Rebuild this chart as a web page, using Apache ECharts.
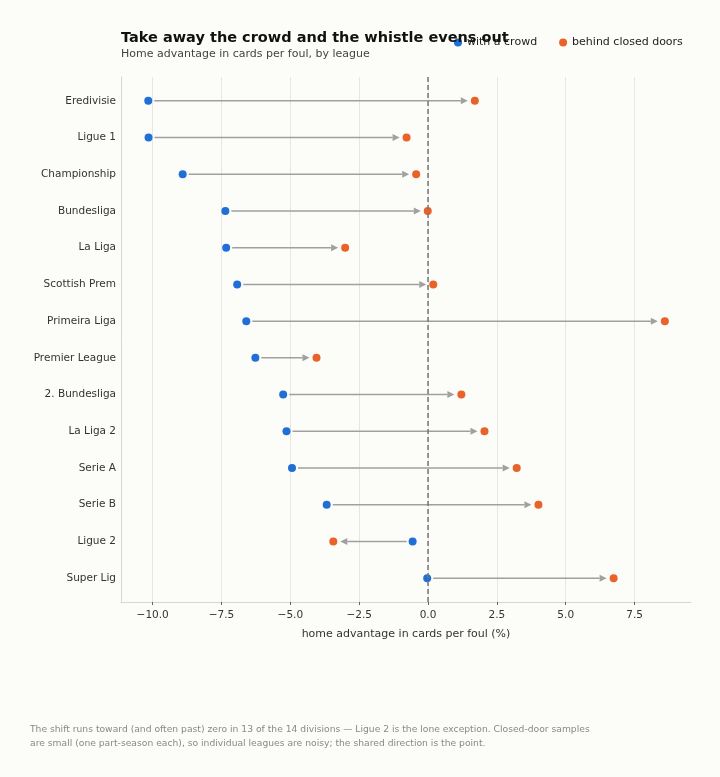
<!DOCTYPE html>
<html>
<head>
<meta charset="utf-8">
<script src="https://cdn.jsdelivr.net/npm/echarts@6/dist/echarts.min.js"></script>
<style>
  html, body { margin: 0; padding: 0; background: #fcfcf9; }
  #chart { width: 720px; height: 777px; }
</style>
</head>
<body>
<div id="chart"></div>
<script>
// leagues top to bottom
const leagues = ['Eredivisie', 'Ligue 1', 'Championship', 'Bundesliga', 'La Liga', 'Scottish Prem',
  'Primeira Liga', 'Premier League', '2. Bundesliga', 'La Liga 2', 'Serie A', 'Serie B', 'Ligue 2', 'Super Lig']
const withCrowd = [-10.16, -10.15, -8.91, -7.36, -7.33, -6.93, -6.60, -6.27, -5.26, -5.14, -4.94, -3.68, -0.56, -0.03]
const closedDoors = [1.70, -0.78, -0.43, -0.01, -3.01, 0.19, 8.60, -4.05, 1.21, 2.05, 3.22, 4.01, -3.44, 6.74]
const xTicks = [-10, -7.5, -5, -2.5, 0, 2.5, 5, 7.5]

const font = 'DejaVu Sans'
const blue = '#1f6fd6'
const orange = '#e8622a'

let idx = leagues.map((_, i) => i)

// arrow from crowd value to closed-door value, trimmed so it doesn't touch the dots
function renderArrow(params, api) {
  let p1 = api.coord([api.value(0), api.value(2)])
  let p2 = api.coord([api.value(1), api.value(2)])
  let dir = p2[0] >= p1[0] ? 1 : -1
  let x0 = p1[0] + dir * 6
  let x1 = p2[0] - dir * 7
  let y = p1[1]
  let head = 7
  return {
    type: 'group',
    children: [
      {
        type: 'line',
        shape: { x1: x0, y1: y, x2: x1 - dir * head, y2: y },
        style: { stroke: '#a0a0a0', lineWidth: 1.5 }
      },
      {
        type: 'polygon',
        shape: { points: [[x1, y], [x1 - dir * head, y - 3.5], [x1 - dir * head, y + 3.5]] },
        style: { fill: '#a0a0a0' }
      }
    ]
  }
}

let option = {
  backgroundColor: '#fcfcf9',
  animation: false,
  textStyle: { fontFamily: font },
  title: {
    text: 'Take away the crowd and the whistle evens out',
    subtext: 'Home advantage in cards per foul, by league',
    left: 116,
    top: 26,
    itemGap: 3,
    textStyle: { fontFamily: font, fontSize: 14.5, fontWeight: 'bold', color: '#111' },
    subtextStyle: { fontFamily: font, fontSize: 11, color: '#444' }
  },
  legend: {
    left: 449,
    top: 32,
    icon: 'circle',
    itemWidth: 8,
    itemHeight: 8,
    itemGap: 22,
    textStyle: { fontFamily: font, fontSize: 11, color: '#222' },
    data: ['with a crowd', 'behind closed doors']
  },
  grid: { left: 121, right: 29, top: 77, bottom: 175 },
  xAxis: {
    type: 'value',
    min: -11.15,
    max: 9.55,
    name: 'home advantage in cards per foul (%)',
    nameLocation: 'middle',
    nameGap: 27,
    nameTextStyle: { fontFamily: font, fontSize: 11, color: '#333' },
    axisLine: { show: true, onZero: false, lineStyle: { color: '#d6d6d6' } },
    axisTick: { show: true, length: 3, lineStyle: { color: '#666' }, customValues: xTicks },
    axisLabel: {
      fontFamily: font, fontSize: 10.5, color: '#333', margin: 8,
      customValues: xTicks,
      formatter: v => v.toFixed(1).replace('-', '\u2212')
    },
    splitLine: { show: true, lineStyle: { color: '#e6e6e6', width: 1 } }
  },
  yAxis: {
    type: 'value',
    inverse: true,
    min: -0.65,
    max: 13.65,
    axisLine: { show: true, onZero: false, lineStyle: { color: '#d6d6d6' } },
    axisTick: { show: false, customValues: idx },
    axisLabel: {
      fontFamily: font, fontSize: 10.5, color: '#333', margin: 5,
      customValues: idx,
      formatter: v => leagues[v] || ''
    },
    splitLine: { show: false }
  },
  series: [
    {
      type: 'custom',
      renderItem: renderArrow,
      encode: { x: [0, 1], y: 2 },
      data: idx.map(i => [withCrowd[i], closedDoors[i], i]),
      silent: true,
      z: 2,
      markLine: {
        silent: true,
        symbol: 'none',
        label: { show: false },
        lineStyle: { color: '#777', width: 1.5, type: [5, 3] },
        data: [{ xAxis: 0 }]
      }
    },
    {
      name: 'with a crowd',
      type: 'scatter',
      symbol: 'circle',
      symbolSize: 8,
      itemStyle: { color: blue, opacity: 1 },
      data: idx.map(i => [withCrowd[i], i]),
      z: 3
    },
    {
      name: 'behind closed doors',
      type: 'scatter',
      symbol: 'circle',
      symbolSize: 8,
      itemStyle: { color: orange, opacity: 1 },
      data: idx.map(i => [closedDoors[i], i]),
      z: 3
    }
  ],
  graphic: [
    {
      type: 'text',
      left: 30,
      top: 722,
      style: {
        text: 'The shift runs toward (and often past) zero in 13 of the 14 divisions \u2014 Ligue 2 is the lone exception. Closed-door samples\nare small (one part-season each), so individual leagues are noisy; the shared direction is the point.',
        fontFamily: font,
        fontSize: 9.2,
        lineHeight: 14.5,
        fill: '#888'
      }
    }
  ]
}

const chart = echarts.init(document.getElementById('chart'))
chart.setOption(option)
</script>
</body>
</html>
